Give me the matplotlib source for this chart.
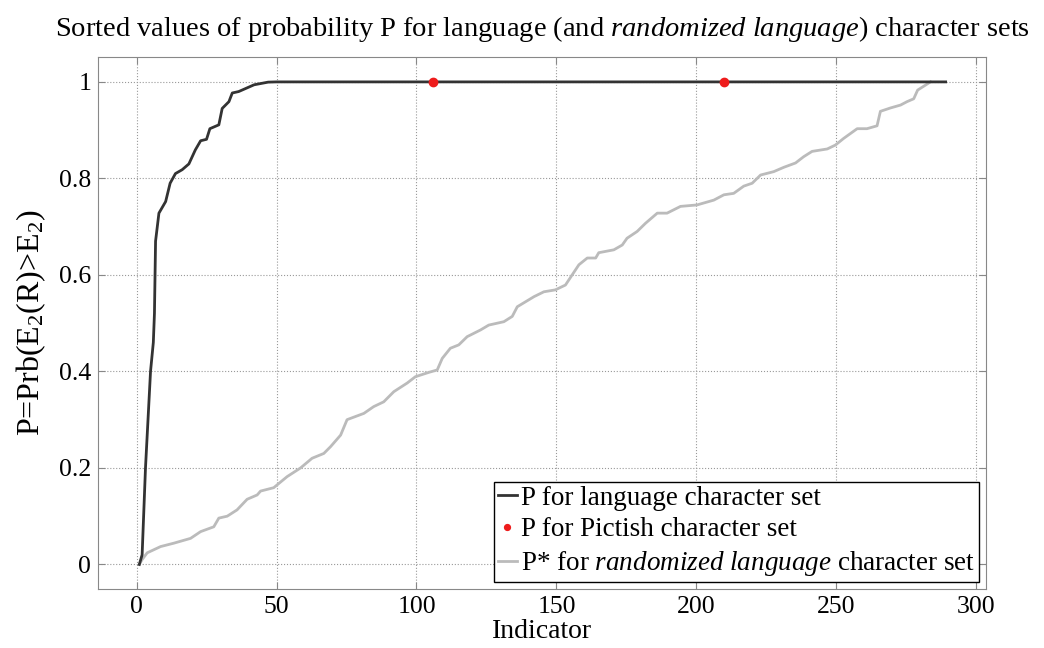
import matplotlib
matplotlib.use('Agg')
import matplotlib.pyplot as plt

# sorted P values for the language character sets
lang_x = [1, 2, 3.2, 5, 6, 6.4, 6.8, 8, 10.4, 12, 13.9, 16.3, 18.7, 21, 22.9, 25,
          26.2, 29.4, 30.6, 33, 34.2, 36.5, 42, 47, 50, 289]
lang_p = [0, 0.02, 0.2, 0.4, 0.46, 0.52, 0.67, 0.728, 0.752, 0.79, 0.81, 0.818,
          0.83, 0.859, 0.878, 0.881, 0.903, 0.911, 0.945, 0.959, 0.977, 0.98,
          0.994, 0.9995, 1, 1]

# Pictish character set
pict_x = [106, 210]
pict_p = [1, 1]

# randomized language character sets
rand_x = [1, 2, 3.8, 8.6, 13.3, 19.3, 22.9, 27.6, 29.4, 32.4, 35.9, 39.5, 43.1,
          44.3, 49, 53.8, 58.6, 62.7, 66.9, 69.3, 72.9, 75.2, 81.2, 84.7, 88.3,
          91.9, 96.7, 99.6, 104.4, 107.4, 109.2, 112.1, 115.1, 118.1, 122.9,
          125.8, 131.2, 134.2, 136, 142, 145.5, 149.6, 153.2, 155.6, 158, 161,
          164, 165.1, 170.5, 173.5, 175.2, 178.8, 181.8, 186, 189.5, 194.3,
          200.2, 206.2, 209.8, 213.3, 216.9, 219.9, 222.9, 227.6, 231.2, 235.4,
          238.3, 241.3, 246.7, 249.6, 252.6, 257.4, 260.9, 264.5, 265.7, 269.3,
          272.9, 275.2, 277.6, 279, 283.6]
rand_p = [0, 0.01, 0.024, 0.037, 0.044, 0.054, 0.068, 0.078, 0.096, 0.1, 0.113,
          0.135, 0.144, 0.152, 0.159, 0.182, 0.2, 0.22, 0.23, 0.244, 0.268, 0.3,
          0.313, 0.327, 0.337, 0.358, 0.376, 0.389, 0.398, 0.403, 0.427, 0.448,
          0.455, 0.472, 0.486, 0.496, 0.503, 0.514, 0.534, 0.555, 0.565, 0.569,
          0.579, 0.6, 0.621, 0.635, 0.635, 0.646, 0.652, 0.662, 0.676, 0.69,
          0.707, 0.728, 0.728, 0.742, 0.745, 0.755, 0.766, 0.769, 0.784, 0.79,
          0.807, 0.814, 0.823, 0.832, 0.845, 0.856, 0.861, 0.869, 0.883, 0.903,
          0.903, 0.909, 0.939, 0.946, 0.952, 0.959, 0.965, 0.983, 1.0]

xticks = [0, 50, 100, 150, 200, 250, 300]
yticks = [0, 0.2, 0.4, 0.6, 0.8, 1]
ytick_labels = ['0', '0.2', '0.4', '0.6', '0.8', '1']

plt.rcParams['font.family'] = ['Liberation Serif', 'DejaVu Serif']
plt.rcParams['mathtext.fontset'] = 'custom'
plt.rcParams['mathtext.rm'] = 'Liberation Serif'
plt.rcParams['mathtext.it'] = 'Liberation Serif:italic'

fig = plt.figure(figsize=(10.44, 6.48), dpi=100)
ax = fig.add_axes([0.0939, 0.091, 0.8505, 0.8206])

ax.plot(lang_x, lang_p, color='#333333', lw=2, label='P for language character set', zorder=3)
ax.plot(pict_x, pict_p, ls='none', marker='o', ms=6, color='#ee1c1c',
        label='P for Pictish character set', zorder=4)
ax.plot(rand_x, rand_p, color='#bbbbbb', lw=2,
        label=r'P* for $\it{randomized\ language}$ character set', zorder=2)

ax.set_xlim(-13.75, 303.4)
ax.set_ylim(-0.051, 1.051)
ax.set_xticks(xticks)
ax.set_yticks(yticks)
ax.set_yticklabels(ytick_labels)
ax.grid(True, ls=':', color='#999999', lw=0.8)
ax.tick_params(direction='in', length=5, top=True, right=True, labelsize=18.5,
               color='#888888', pad=5)
for s in ax.spines.values():
    s.set_color('#888888')

ax.set_title(r'Sorted values of probability P for language (and $\it{randomized\ language}$) character sets',
             fontsize=20.5, pad=15)
ax.set_xlabel('Indicator', fontsize=20, labelpad=1)
ax.set_ylabel(r'P=Prb(E$_2$(R)>E$_2$)', fontsize=23, labelpad=8)

leg = ax.legend(loc='lower right', fontsize=19.5, handlelength=0.7, handletextpad=0.15,
                borderaxespad=0.25, borderpad=0.15, labelspacing=0.25, fancybox=False,
                framealpha=1, edgecolor='black', numpoints=1, markerscale=0.7)
leg.get_frame().set_linewidth(1.0)

fig.savefig('out.png', dpi=100)
